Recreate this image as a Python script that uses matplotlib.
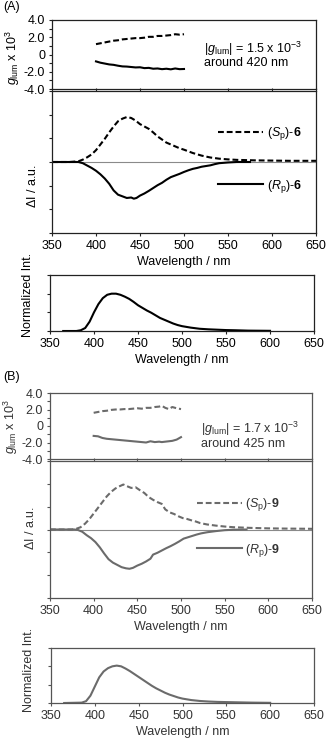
import matplotlib
matplotlib.use('Agg')
import matplotlib.pyplot as plt
from matplotlib.ticker import MultipleLocator

plt.rcParams['font.family'] = ['Liberation Sans', 'DejaVu Sans']
plt.rcParams['font.size'] = 9
plt.rcParams['mathtext.fontset'] = 'custom'
plt.rcParams['mathtext.rm'] = 'Liberation Sans'
plt.rcParams['mathtext.it'] = 'Liberation Sans:italic'
plt.rcParams['mathtext.bf'] = 'Liberation Sans:bold'
plt.rcParams['axes.unicode_minus'] = False

# ---------------- panel A : compound 6 ----------------
glum_wl = [400, 405, 410, 415, 420, 425, 430, 435, 440, 445, 450, 455, 460, 465, 470, 475, 480, 485, 490, 495, 500]
glum_S6 = [1.2, 1.3, 1.4, 1.5, 1.6, 1.65, 1.75, 1.8, 1.85, 1.9, 1.9, 1.95, 2.05, 2.05, 2.15, 2.15, 2.2, 2.25, 2.35, 2.3, 2.35]
glum_R6 = [-0.8, -0.95, -1.05, -1.15, -1.2, -1.3, -1.38, -1.4, -1.45, -1.5, -1.48, -1.58, -1.55, -1.65, -1.62, -1.7, -1.65, -1.72, -1.62, -1.7, -1.68]

dI_S6_wl = [350, 370, 380, 385, 390, 395, 400, 405, 410, 415, 420, 425, 430, 435, 440, 445, 450, 455, 460, 465, 470,
            475, 480, 485, 490, 495, 500, 510, 520, 530, 540, 550, 560, 570, 580, 600, 620, 650]
dI_S6 = [0, 0, 0.03, 0.1, 0.2, 0.32, 0.5, 0.74, 0.98, 1.25, 1.5, 1.72, 1.83, 1.9, 1.86, 1.75, 1.6, 1.5, 1.4, 1.25, 1.08,
         0.95, 0.82, 0.74, 0.66, 0.58, 0.52, 0.38, 0.27, 0.19, 0.14, 0.11, 0.09, 0.08, 0.07, 0.06, 0.05, 0.05]
dI_R6_wl = [350, 370, 380, 385, 390, 395, 400, 405, 410, 415, 420, 425, 430, 435, 440, 443, 446, 450, 455, 460, 465,
            470, 475, 480, 485, 490, 495, 500, 505, 510, 515, 520, 525, 530, 535, 540, 550, 560, 575]
dI_R6 = [0, 0, 0, -0.05, -0.15, -0.25, -0.37, -0.52, -0.7, -0.92, -1.2, -1.38, -1.45, -1.52, -1.5, -1.55, -1.52, -1.42,
         -1.33, -1.22, -1.1, -0.98, -0.88, -0.75, -0.64, -0.57, -0.5, -0.42, -0.35, -0.29, -0.25, -0.2, -0.17, -0.14,
         -0.09, -0.05, -0.02, 0, 0]

em6_wl = [365, 380, 385, 390, 395, 400, 405, 410, 415, 420, 425, 430, 435, 440, 445, 450, 455, 460, 465, 470, 475, 480,
          485, 490, 495, 500, 510, 520, 530, 540, 550, 560, 575, 600]
em6 = [0, 0, 0.02, 0.08, 0.25, 0.5, 0.72, 0.88, 0.97, 1.0, 1.0, 0.97, 0.92, 0.86, 0.78, 0.69, 0.62, 0.55, 0.49, 0.42,
       0.35, 0.3, 0.25, 0.2, 0.16, 0.13, 0.09, 0.06, 0.045, 0.035, 0.025, 0.02, 0.01, 0.005]

# ---------------- panel B : compound 9 ----------------
glum9_wl = [400, 405, 410, 415, 420, 425, 430, 435, 440, 445, 450, 455, 460, 465, 470, 475, 478, 482, 486, 490, 495, 500]
glum_S9 = [1.6, 1.7, 1.8, 1.85, 1.95, 2.0, 2.0, 2.05, 2.05, 2.1, 2.15, 2.1, 2.2, 2.2, 2.3, 2.35, 2.45, 2.2, 2.05, 2.3, 2.15, 2.05]
glum_R9 = [-1.2, -1.25, -1.45, -1.55, -1.6, -1.65, -1.7, -1.75, -1.8, -1.85, -1.9, -1.95, -2.0, -1.85, -1.95, -1.9, -1.95,
           -1.9, -1.85, -1.8, -1.65, -1.35]

dI_S9_wl = [350, 375, 380, 385, 390, 395, 400, 405, 410, 415, 420, 425, 430, 434, 438, 443, 448, 453, 458, 463, 468, 473,
            478, 482, 487, 492, 497, 502, 507, 512, 517, 522, 530, 540, 550, 560, 580, 600, 620, 650]
dI_S9 = [0, 0, 0.03, 0.1, 0.25, 0.45, 0.7, 0.95, 1.2, 1.45, 1.65, 1.8, 1.9, 1.97, 1.9, 1.82, 1.85, 1.72, 1.6, 1.42, 1.3,
         1.2, 1.12, 0.88, 0.75, 0.68, 0.58, 0.5, 0.46, 0.4, 0.35, 0.28, 0.22, 0.17, 0.13, 0.1, 0.07, 0.05, 0.04, 0.03]
dI_R9_wl = [350, 378, 382, 387, 392, 397, 402, 407, 412, 417, 422, 427, 432, 437, 441, 445, 450, 455, 460, 465, 468, 473,
            478, 483, 488, 493, 498, 503, 508, 513, 518, 523, 530, 540, 550, 560, 575]
dI_R9 = [0, 0, -0.02, -0.1, -0.25, -0.38, -0.55, -0.78, -1.05, -1.3, -1.45, -1.55, -1.65, -1.7, -1.72, -1.68, -1.58, -1.5,
         -1.4, -1.28, -1.1, -1.02, -0.92, -0.82, -0.73, -0.63, -0.52, -0.4, -0.34, -0.28, -0.22, -0.17, -0.12, -0.07,
         -0.03, -0.01, 0]

em9_wl = [365, 385, 390, 395, 400, 405, 410, 415, 420, 425, 430, 435, 440, 445, 450, 455, 460, 465, 470, 475, 480, 485,
          490, 495, 500, 510, 520, 530, 540, 560, 580, 600]
em9 = [0, 0.01, 0.05, 0.2, 0.45, 0.7, 0.86, 0.95, 1.0, 1.02, 1.0, 0.94, 0.87, 0.79, 0.71, 0.63, 0.55, 0.47, 0.4, 0.34,
       0.28, 0.23, 0.19, 0.15, 0.12, 0.08, 0.055, 0.04, 0.03, 0.02, 0.01, 0.005]

W = 327.0
H = 745.0


def rect(left, right, top, bottom):
    return [left / W, 1 - bottom / H, (right - left) / W, (bottom - top) / H]


def style(ax, spine_col):
    for s in ax.spines.values():
        s.set_color(spine_col)
        s.set_linewidth(0.9)
    ax.tick_params(which='both', color=spine_col, width=0.8, length=2.5, pad=2.5)
    ax.set_xlim(350, 650)
    ax.xaxis.set_major_locator(MultipleLocator(50))


def panel(tag, tag_y, r_g, r_d, r_n, col, txt_col, spine_col,
          g_wl, gS, gR, dS_wl, dS, dR_wl, dR, e_wl, e, num, glum_txt, around_txt,
          g_txt_y, leg_x, leg_yS, leg_yR, lab_y):
    dash = (0, (2.8, 1.4))
    lw = 1.5
    fig.text(3 / W, 1 - tag_y / H, tag, va='center', ha='left', color='black')

    # g_lum
    ax1 = fig.add_axes(rect(*r_g))
    style(ax1, spine_col)
    ax1.plot(g_wl, gS, color=col, lw=lw, linestyle=dash)
    ax1.plot(g_wl, gR, color=col, lw=lw)
    ax1.set_ylim(-4, 4)
    ax1.set_yticks([-4, -2, 0, 2, 4])
    ax1.set_yticklabels(['-4.0', '-2.0', '0', '2.0', '4.0'], color=txt_col)
    ax1.yaxis.set_minor_locator(MultipleLocator(1))
    ax1.tick_params(axis='x', bottom=False, labelbottom=False)
    ax1.set_ylabel(r'$g_{\mathrm{lum}}$ x 10$^3$', color=txt_col)
    ax1.yaxis.set_label_coords(-0.115, lab_y[0])
    ax1.text(0.575, g_txt_y[0], glum_txt, transform=ax1.transAxes, va='center', color=txt_col)
    ax1.text(0.575, g_txt_y[1], around_txt, transform=ax1.transAxes, va='center', color=txt_col)

    # Delta I
    ax2 = fig.add_axes(rect(*r_d))
    style(ax2, spine_col)
    ax2.axhline(0, color='#8a8a8a', lw=0.8)
    lS, = ax2.plot(dS_wl, dS, color=col, lw=lw, linestyle=dash)
    lR, = ax2.plot(dR_wl, dR, color=col, lw=lw)
    ax2.set_ylim(-3, 3)
    ax2.yaxis.set_major_locator(MultipleLocator(1))
    ax2.tick_params(axis='y', labelleft=False)
    ax2.tick_params(axis='x', top=True, labelcolor=txt_col)
    ax2.set_xlabel('Wavelength / nm', color=txt_col, labelpad=3)
    ax2.set_ylabel('$\\mathit{\u0394}$I / a.u.', color=txt_col)
    ax2.yaxis.set_label_coords(-0.05, lab_y[1])
    legS = ax2.legend([lS], [r'($\mathit{S}_{\mathrm{p}}$)-$\mathbf{' + num + '}$'], loc='center left',
                      bbox_to_anchor=(leg_x, leg_yS), frameon=False, handlelength=3.6, handletextpad=0.3,
                      labelcolor=txt_col, borderaxespad=0, borderpad=0)
    ax2.add_artist(legS)
    ax2.legend([lR], [r'($\mathit{R}_{\mathrm{p}}$)-$\mathbf{' + num + '}$'], loc='center left',
               bbox_to_anchor=(leg_x, leg_yR), frameon=False, handlelength=3.6, handletextpad=0.3,
               labelcolor=txt_col, borderaxespad=0, borderpad=0)

    # normalized emission
    ax3 = fig.add_axes(rect(*r_n))
    style(ax3, spine_col)
    ax3.plot(e_wl, e, color=col, lw=lw)
    ax3.set_ylim(0, 1.5)
    ax3.yaxis.set_major_locator(MultipleLocator(0.5))
    ax3.tick_params(axis='y', labelleft=False)
    ax3.tick_params(axis='x', labelcolor=txt_col)
    ax3.set_xlabel('Wavelength / nm', color=txt_col, labelpad=3)
    ax3.set_ylabel('Normalized Int.', color=txt_col)
    ax3.yaxis.set_label_coords(-0.06, lab_y[2])


fig = plt.figure(figsize=(W / 100, H / 100), dpi=100)

panel('(A)', 7, (52, 316, 20, 89), (52, 316, 91, 233), (50, 314, 275, 331),
      'black', 'black', '#222222',
      glum_wl, glum_S6, glum_R6, dI_S6_wl, dI_S6, dI_R6_wl, dI_R6, em6_wl, em6, '6',
      r'|$g_{\mathrm{lum}}$| = 1.5 x 10$^{-3}$', 'around 420 nm', (0.58, 0.38),
      0.63, 0.70, 0.33, (0.45, 0.33, 0.64))

panel('(B)', 377, (50, 312, 393, 459), (50, 312, 461, 598), (51, 314, 648, 703),
      '#6b6b6b', '#333333', '#555555',
      glum9_wl, glum_S9, glum_R9, dI_S9_wl, dI_S9, dI_R9_wl, dI_R9, em9_wl, em9, '9',
      r'|$g_{\mathrm{lum}}$| = 1.7 x 10$^{-3}$', 'around 425 nm', (0.45, 0.23),
      0.56, 0.68, 0.35, (0.5, 0.51, 0.6))

fig.savefig('out.png', dpi=100)
